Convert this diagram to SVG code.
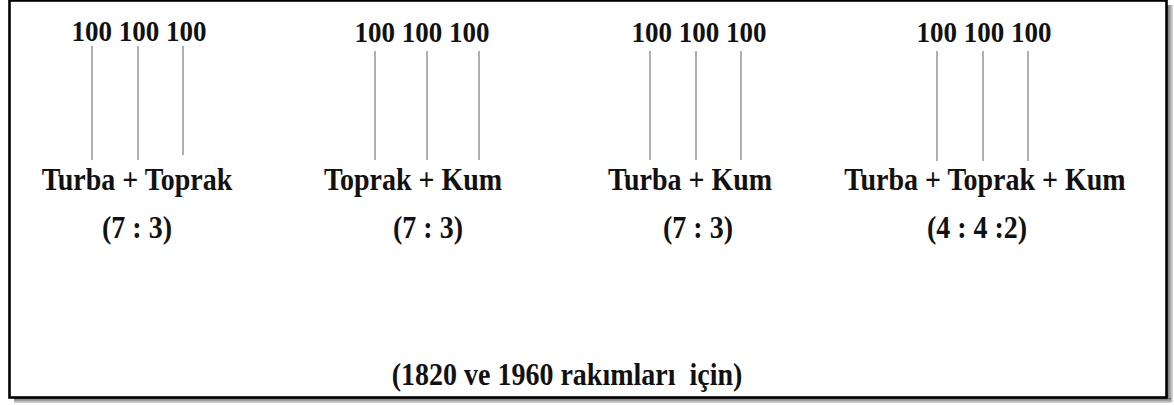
<svg xmlns="http://www.w3.org/2000/svg" width="1174" height="405" viewBox="0 0 1174 405">
  <style>
    .t { font-family: "Liberation Serif", "Times New Roman", serif; font-weight: bold; font-size: 28px; fill: #111; text-anchor: middle; }
    .n { font-size: 27px; }
    .c line { stroke: #7a7a7a; stroke-width: 1.2; }
  </style>
  <defs>
    <linearGradient id="shR" x1="0" y1="0" x2="1" y2="0">
      <stop offset="0" stop-color="#666"/>
      <stop offset="1" stop-color="#ddd"/>
    </linearGradient>
    <linearGradient id="shB" x1="0" y1="0" x2="0" y2="1">
      <stop offset="0" stop-color="#666"/>
      <stop offset="1" stop-color="#ddd"/>
    </linearGradient>
  </defs>
  <rect width="1174" height="405" fill="#fff"/>
  <g id="frame">
    <rect x="1167" y="5" width="6" height="397" fill="url(#shR)"/>
    <rect x="14" y="398" width="1157" height="5" fill="url(#shB)"/>
    <rect x="9.5" y="0.5" width="1157" height="397" fill="#fff" stroke="#000" stroke-width="2.6"/>
  </g>
  <g id="connectors" class="c">
    <line x1="92" y1="46" x2="92" y2="160"/>
    <line x1="138" y1="46" x2="138" y2="160"/>
    <line x1="183" y1="46" x2="183" y2="155"/>
    <line x1="375" y1="51" x2="375" y2="160"/>
    <line x1="427" y1="51" x2="427" y2="160"/>
    <line x1="479" y1="51" x2="479" y2="160"/>
    <line x1="650" y1="51" x2="650" y2="160"/>
    <line x1="696" y1="51" x2="696" y2="160"/>
    <line x1="741" y1="51" x2="741" y2="160"/>
    <line x1="937" y1="51" x2="937" y2="161"/>
    <line x1="983" y1="51" x2="983" y2="161"/>
    <line x1="1028" y1="51" x2="1028" y2="161"/>
  </g>
  <g id="node1">
    <text class="t n" transform="translate(139,41) scale(1,1.08)">100 100 100</text>
    <text class="t" transform="translate(137,190) scale(1,1.13)">Turba + Toprak</text>
    <text class="t" transform="translate(137,238) scale(1,1.1)">(7 : 3)</text>
  </g>
  <g id="node2">
    <text class="t n" transform="translate(422,42) scale(1,1.08)">100 100 100</text>
    <text class="t" transform="translate(413,190) scale(1,1.13)">Toprak + Kum</text>
    <text class="t" transform="translate(428,238) scale(1,1.1)">(7 : 3)</text>
  </g>
  <g id="node3">
    <text class="t n" transform="translate(699,42) scale(1,1.08)">100 100 100</text>
    <text class="t" transform="translate(690,190) scale(1,1.13)">Turba + Kum</text>
    <text class="t" transform="translate(698,238) scale(1,1.1)">(7 : 3)</text>
  </g>
  <g id="node4">
    <text class="t n" transform="translate(984,42) scale(1,1.08)">100 100 100</text>
    <text class="t" transform="translate(985,190) scale(1,1.13)">Turba + Toprak + Kum</text>
    <text class="t" transform="translate(977,238) scale(1,1.1)">(4 : 4 :2)</text>
  </g>
  <g id="caption">
    <text class="t" transform="translate(567,385) scale(1,1.1)" xml:space="preserve">(1820 ve 1960 rakımları  için)</text>
  </g>
</svg>
